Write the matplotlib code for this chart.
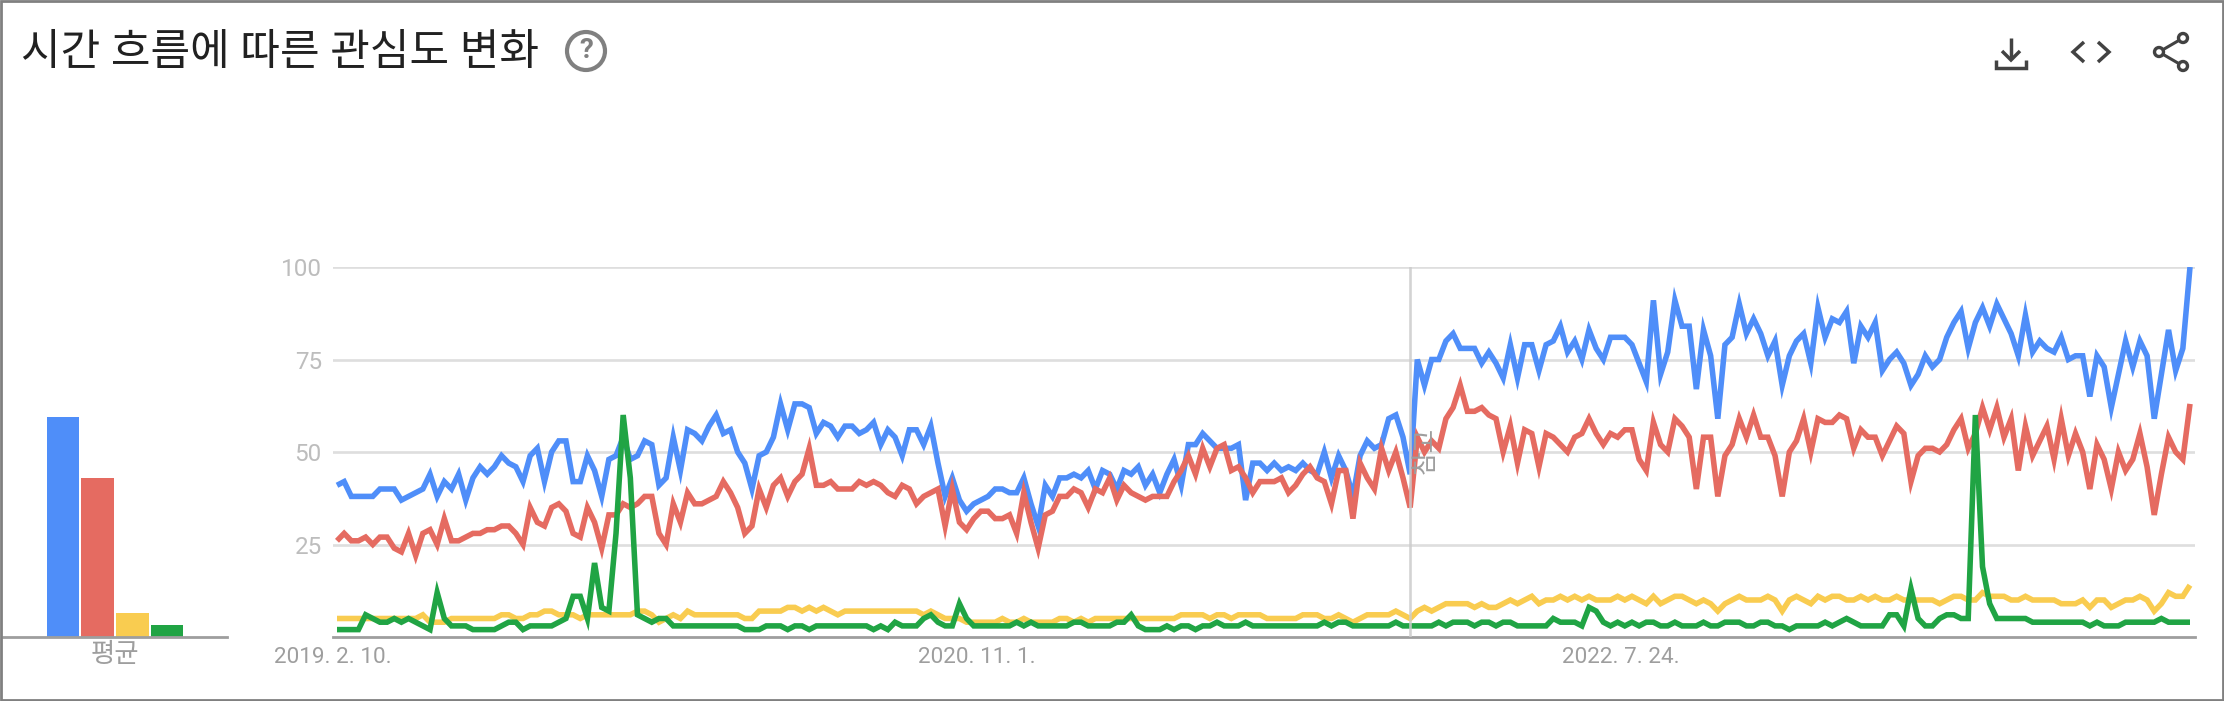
import matplotlib
matplotlib.use('Agg')
import matplotlib.pyplot as plt
from matplotlib.patches import Circle, Rectangle
from matplotlib.transforms import ScaledTranslation
import numpy as np

plt.rcParams['font.family'] = ['Roboto', 'Noto Sans CJK KR', 'DejaVu Sans']

W, H = 2224, 701

title = '시간 흐름에 따른 관심도 변화'
note = '참고'
bar_label = '평균'
y_ticks = [25, 50, 75, 100]
x_tick_idx = [0, 90, 180]
x_tick_labels = ['2019. 2. 10.', '2020. 11. 1.', '2022. 7. 24.']
note_idx = 150

# 주별 값
blue = [41, 42, 38, 38, 38, 38, 40, 40, 40, 37,
        38, 39, 40, 44, 38, 42, 40, 44, 37, 43,
        46, 44, 46, 49, 47, 46, 42, 49, 51, 42,
        50, 53, 53, 42, 42, 49, 45, 38, 48, 49,
        54, 48, 49, 53, 52, 41, 43, 54, 45, 56,
        55, 53, 57, 60, 55, 56, 50, 47, 40, 49,
        50, 54, 63, 56, 63, 63, 62, 55, 58, 57,
        54, 57, 57, 55, 56, 58, 52, 56, 54, 49,
        56, 56, 52, 57, 47, 38, 43, 37, 34, 36,
        37, 38, 40, 40, 39, 39, 43, 36, 30, 41,
        38, 43, 43, 44, 43, 45, 40, 45, 44, 40,
        45, 44, 46, 41, 44, 39, 44, 48, 41, 52,
        52, 55, 53, 51, 51, 51, 52, 37, 47, 47,
        45, 47, 45, 46, 45, 47, 45, 44, 50, 43,
        49, 45, 38, 49, 53, 51, 52, 59, 60, 54,
        44, 75, 68, 75, 75, 80, 82, 78, 78, 78,
        74, 77, 74, 70, 79, 70, 79, 79, 72, 79,
        80, 84, 77, 80, 75, 83, 78, 75, 81, 81,
        81, 79, 74, 69, 91, 71, 77, 91, 84, 84,
        67, 83, 76, 59, 79, 81, 90, 82, 86, 82,
        76, 80, 68, 76, 80, 82, 74, 89, 81, 86,
        85, 88, 74, 84, 81, 85, 72, 75, 77, 74,
        68, 71, 76, 73, 75, 81, 85, 88, 78, 85,
        89, 84, 90, 86, 82, 76, 87, 77, 80, 78,
        77, 81, 75, 76, 76, 65, 76, 73, 62, 71,
        80, 73, 80, 76, 59, 71, 83, 72, 78, 100]

red = [26, 28, 26, 26, 27, 25, 27, 27, 24, 23,
       28, 22, 28, 29, 25, 32, 26, 26, 27, 28,
       28, 29, 29, 30, 30, 28, 25, 35, 31, 30,
       35, 36, 34, 28, 27, 35, 31, 24, 33, 33,
       36, 35, 36, 38, 38, 28, 25, 36, 31, 39,
       36, 36, 37, 38, 42, 39, 35, 28, 30, 40,
       35, 41, 43, 38, 42, 44, 51, 41, 41, 42,
       40, 40, 40, 42, 41, 42, 41, 39, 38, 41,
       40, 36, 38, 39, 40, 30, 40, 31, 29, 32,
       34, 34, 32, 32, 33, 28, 39, 31, 24, 33,
       34, 38, 38, 40, 39, 35, 40, 39, 43, 37,
       41, 39, 38, 37, 38, 38, 38, 42, 45, 49,
       44, 51, 46, 51, 52, 45, 46, 43, 39, 42,
       42, 42, 43, 39, 41, 44, 46, 43, 42, 36,
       45, 45, 32, 47, 43, 40, 51, 45, 50, 43,
       35, 54, 50, 53, 51, 59, 62, 68, 61, 61,
       62, 60, 59, 50, 57, 47, 56, 55, 46, 55,
       54, 52, 50, 54, 55, 59, 55, 52, 55, 54,
       56, 56, 48, 45, 58, 52, 50, 59, 57, 54,
       40, 54, 54, 38, 49, 52, 59, 54, 60, 54,
       54, 49, 38, 50, 53, 59, 50, 59, 58, 58,
       60, 59, 51, 56, 54, 54, 49, 53, 57, 55,
       42, 49, 51, 51, 50, 52, 56, 59, 51, 55,
       62, 56, 62, 54, 59, 45, 57, 49, 53, 57,
       48, 59, 49, 55, 50, 40, 52, 48, 40, 50,
       45, 48, 55, 46, 33, 44, 54, 50, 48, 63]

yellow = [5, 5, 5, 5, 5, 5, 5, 5, 5, 5,
          5, 5, 6, 4, 4, 4, 5, 5, 5, 5,
          5, 5, 5, 6, 6, 5, 5, 6, 6, 7,
          7, 6, 6, 6, 5, 6, 6, 6, 6, 6,
          6, 6, 7, 7, 6, 4, 5, 6, 5, 7,
          6, 6, 6, 6, 6, 6, 6, 5, 5, 7,
          7, 7, 7, 8, 8, 7, 8, 7, 8, 7,
          6, 7, 7, 7, 7, 7, 7, 7, 7, 7,
          7, 7, 6, 7, 6, 5, 5, 5, 4, 4,
          4, 4, 4, 5, 4, 4, 5, 4, 4, 4,
          4, 5, 5, 4, 5, 4, 5, 5, 5, 5,
          5, 5, 5, 5, 5, 5, 5, 5, 6, 6,
          6, 6, 5, 6, 6, 5, 6, 6, 6, 6,
          5, 5, 5, 5, 5, 6, 6, 6, 5, 5,
          6, 5, 4, 5, 6, 6, 6, 6, 7, 6,
          5, 7, 8, 7, 8, 9, 9, 9, 9, 8,
          9, 8, 8, 9, 10, 9, 10, 11, 9, 10,
          10, 11, 10, 11, 10, 11, 10, 10, 10, 11,
          10, 11, 10, 9, 11, 9, 10, 11, 11, 10,
          9, 10, 9, 7, 9, 10, 11, 10, 10, 10,
          11, 10, 7, 10, 11, 10, 9, 11, 10, 11,
          11, 10, 10, 11, 10, 11, 10, 10, 11, 10,
          10, 10, 10, 10, 9, 10, 11, 11, 10, 10,
          12, 11, 11, 11, 10, 10, 11, 10, 10, 10,
          10, 9, 9, 9, 10, 8, 10, 10, 8, 9,
          10, 10, 11, 10, 7, 9, 12, 11, 11, 14]

green = [2, 2, 2, 2, 6, 5, 4, 4, 5, 4,
         5, 4, 3, 2, 12, 5, 3, 3, 3, 2,
         2, 2, 2, 3, 4, 4, 2, 3, 3, 3,
         3, 4, 5, 11, 11, 5, 20, 8, 7, 28,
         60, 43, 6, 5, 4, 5, 5, 3, 3, 3,
         3, 3, 3, 3, 3, 3, 3, 2, 2, 2,
         3, 3, 3, 2, 3, 3, 2, 3, 3, 3,
         3, 3, 3, 3, 3, 2, 3, 2, 4, 3,
         3, 3, 5, 6, 4, 3, 3, 9, 5, 3,
         3, 3, 3, 3, 3, 4, 3, 4, 3, 3,
         3, 3, 3, 4, 4, 3, 3, 3, 3, 4,
         4, 6, 3, 2, 2, 2, 3, 2, 3, 3,
         2, 3, 3, 4, 3, 3, 3, 4, 3, 3,
         3, 3, 3, 3, 3, 3, 3, 3, 4, 3,
         4, 4, 3, 3, 3, 3, 3, 3, 4, 3,
         3, 3, 3, 3, 4, 3, 4, 4, 4, 3,
         4, 4, 3, 4, 4, 3, 3, 3, 3, 3,
         5, 4, 4, 4, 3, 8, 7, 4, 3, 4,
         3, 4, 3, 4, 4, 3, 3, 4, 3, 3,
         3, 4, 3, 3, 4, 4, 4, 3, 3, 4,
         4, 3, 3, 2, 3, 3, 3, 3, 4, 3,
         4, 5, 4, 3, 3, 3, 3, 6, 6, 3,
         13, 5, 3, 3, 5, 6, 6, 5, 5, 60,
         19, 9, 5, 5, 5, 5, 5, 4, 4, 4,
         4, 4, 4, 4, 4, 3, 4, 3, 3, 3,
         4, 4, 4, 4, 4, 5, 4, 4, 4, 4]

# 평균 막대
averages = [59.5, 43, 6.5, 3.2]

colors = ['#4f8ef9', '#e56b61', '#f9cc50', '#20a444']


def px_axes(fig, left, top, right, bottom, **kw):
    # 픽셀 좌표로 축 위치 지정
    return fig.add_axes([left / W, 1 - bottom / H, (right - left) / W, (bottom - top) / H], **kw)


fig = plt.figure(figsize=(W / 100, H / 100), dpi=100, facecolor='white')

# 꺾은선 그래프
ax = px_axes(fig, 333, 267, 2195, 637)
step = (2190 - 337) / 259
weeks = np.arange(len(blue))
for series, color in zip([blue, red, yellow, green], colors):
    ax.plot(weeks, series, color=color, linewidth=4.0, solid_joinstyle='miter',
            solid_capstyle='butt', zorder=3)
ax.set_xlim(-4 / step, 259 + 5 / step)
ax.set_ylim(0, 100)
ax.set_yticks(y_ticks)
ax.set_xticks(x_tick_idx)
ax.set_xticklabels(x_tick_labels)
ax.grid(False)
ax.yaxis.grid(True, color='#dedede', linewidth=1.9)
ax.set_axisbelow(True)
ax.tick_params(axis='both', length=0)
ax.tick_params(axis='y', labelcolor='#bdbdbd', labelsize=17.5, pad=8)
ax.tick_params(axis='x', labelcolor='#9e9e9e', labelsize=16.2, pad=7)
for lab in ax.get_xticklabels():
    lab.set_transform(lab.get_transform() + ScaledTranslation(-0.04, 0, fig.dpi_scale_trans))
for side in ['top', 'left', 'right']:
    ax.spines[side].set_visible(False)
ax.spines['bottom'].set_color('#9e9e9e')
ax.spines['bottom'].set_linewidth(2)

# 참고 표시
ax.axvline(note_idx, color='#cccccc', linewidth=1.9, alpha=0.85, zorder=4)
ax.text(note_idx + 2.1, 50.5, note, rotation=90, ha='center', va='center',
        fontsize=18.5, color='#9e9e9e', zorder=5)

# 평균 막대 그래프
bx = px_axes(fig, 3, 267, 227, 637)
bar_step = 34.67
bx.bar(range(len(averages)), averages, width=0.94, color=colors)
bx.set_xlim((3 - 63) / bar_step, (227 - 63) / bar_step)
bx.set_ylim(0, 100)
bx.set_yticks([])
bx.set_xticks([1.5])
bx.set_xticklabels([bar_label])
bx.tick_params(axis='x', length=0, labelcolor='#9e9e9e', labelsize=19, pad=4)
for side in ['top', 'left', 'right']:
    bx.spines[side].set_visible(False)
bx.spines['bottom'].set_color('#9e9e9e')
bx.spines['bottom'].set_linewidth(2)

# 제목, 아이콘, 테두리
top = px_axes(fig, 0, 0, W, H, zorder=10)
top.set_xlim(0, W)
top.set_ylim(H, 0)
top.axis('off')
top.patch.set_alpha(0)

top.add_patch(Rectangle((1, 1), W - 2, H - 2, fill=False, edgecolor='#808080', linewidth=2))
top.text(21, 53, title, fontsize=31, color='#212121', ha='left', va='center')

top.add_patch(Circle((586, 51), 19, fill=False, edgecolor='#808080', linewidth=3))
top.text(586, 51, '?', fontsize=20, color='#808080', ha='center', va='center', fontweight='bold')

ic = '#424242'
icon_kw = dict(color=ic, linewidth=2.5, solid_capstyle='butt', solid_joinstyle='miter')
top.plot([2011, 2011], [38, 59], **icon_kw)
top.plot([2002, 2011, 2020], [51, 60, 51], **icon_kw)
top.plot([1996, 1996, 2026, 2026], [60, 68, 68, 60], **icon_kw)
top.plot([2084, 2073, 2084], [42, 52, 62], **icon_kw)
top.plot([2098, 2109, 2098], [42, 52, 62], **icon_kw)
top.plot([2159, 2183], [52, 38], color=ic, linewidth=2.2)
top.plot([2159, 2183], [52, 66], color=ic, linewidth=2.2)
for cx, cy in [(2183, 38), (2159, 52), (2183, 66)]:
    top.add_patch(Circle((cx, cy), 4.5, facecolor='white', edgecolor=ic, linewidth=2.4, zorder=5))

fig.savefig('out.png', dpi=100)
